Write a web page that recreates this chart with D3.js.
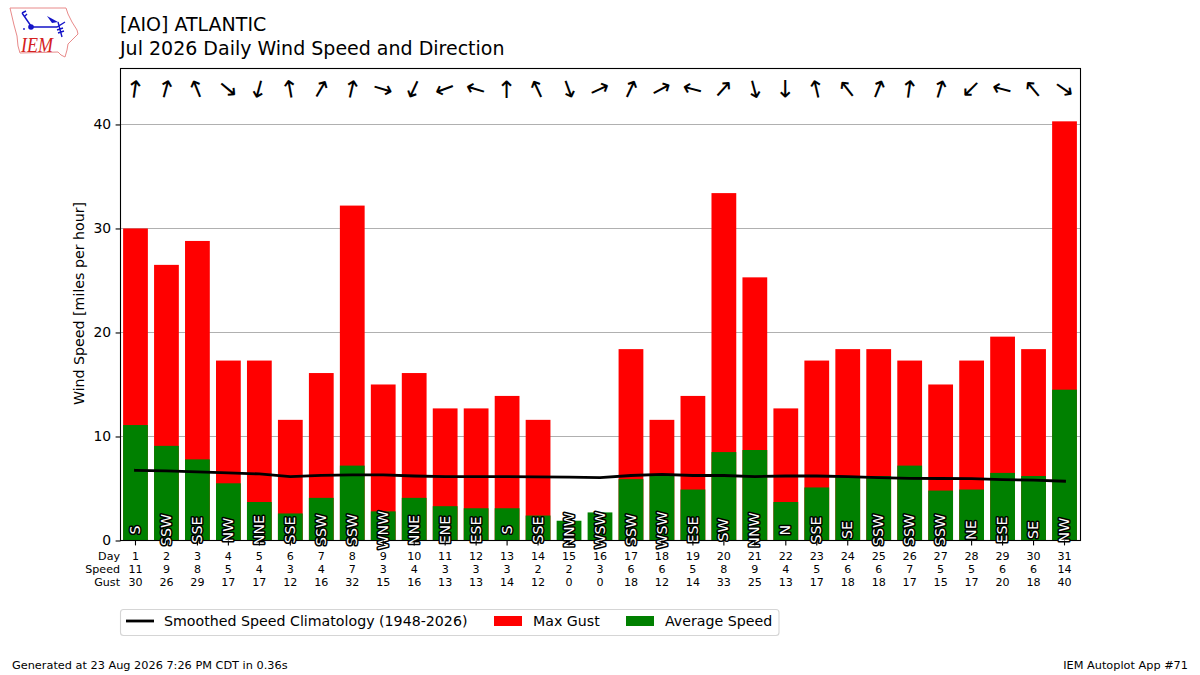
<!DOCTYPE html>
<html><head><meta charset="utf-8">
<script src="https://cdn.jsdelivr.net/npm/d3@7"></script>
<style>html,body{margin:0;padding:0;background:#fff}svg{display:block}text{font-family:"DejaVu Sans",sans-serif}</style>
</head><body><svg id="c" width="1200" height="675"></svg>
<script>
const days=d3.range(1,32);
const gust=[30,26.5,28.8,17.3,17.3,11.6,16.1,32.2,15,16.1,12.7,12.7,13.9,11.6,0,0,18.4,11.6,13.9,33.4,25.3,12.7,17.3,18.4,18.4,17.3,15,17.3,19.6,18.4,40.3];
const speed=[11.1,9.1,7.8,5.5,3.7,2.6,4.1,7.2,2.8,4.1,3.3,3.1,3.1,2.4,1.9,2.7,5.9,6.3,4.9,8.5,8.7,3.7,5.1,6.2,6.2,7.2,4.8,4.9,6.5,6.2,14.5];
const speedLabels=[11,9,8,5,4,3,4,7,3,4,3,3,3,2,2,3,6,6,5,8,9,4,5,6,6,7,5,5,6,6,14];
const gustLabels=[30,26,29,17,17,12,16,32,15,16,13,13,14,12,0,0,18,12,14,33,25,13,17,18,18,17,15,17,20,18,40];
const dirLabels=["S","SSW","SSE","NW","NNE","SSE","SSW","SSW","WNW","NNE","ENE","ESE","S","SSE","NNW","WSW","SSW","WSW","ESE","SW","NNW","N","SSE","SE","SSW","SSW","SSW","NE","ESE","SE","NW"];
const arrowAngle=[8,15,-22,130,195,-10,30,13,107,205,250,287,0,-25,160,65,25,62,285,42,165,180,-13,-38,22,8,17,225,285,-40,125];
const clim=[6.75,6.7,6.6,6.5,6.4,6.15,6.27,6.3,6.3,6.2,6.15,6.15,6.15,6.12,6.1,6.05,6.25,6.35,6.25,6.25,6.15,6.2,6.2,6.15,6.05,5.98,5.96,5.95,5.85,5.8,5.7];
const yTicks=[0,10,20,30,40];
const rowLabels=["Day","Speed","Gust"];
const titleLines=["[AIO] ATLANTIC","Jul 2026 Daily Wind Speed and Direction"];

const svg=d3.select("#c");
const L=120.5,R=1080.5,T=68.5,B=540.5;
const x=d3.scaleLinear().domain([0.5,31.5]).range([L-0.5,R-0.5]);
const y=d3.scaleLinear().domain([0,45.38]).range([B,T]);
const bw=x(0.8)-x(0);

// gridlines behind bars
svg.append("g").selectAll("line").data(yTicks.slice(1)).join("line")
 .attr("x1",L).attr("x2",R).attr("y1",d=>y(d)).attr("y2",d=>y(d))
 .attr("stroke","#b0b0b0").attr("stroke-width",1.1);

svg.append("g").selectAll("rect").data(days).join("rect")
 .attr("x",d=>x(d)-bw/2).attr("width",bw).attr("y",(d,i)=>y(gust[i])).attr("height",(d,i)=>y(0)-y(gust[i])).attr("fill","#ff0000");
svg.append("g").selectAll("rect").data(days).join("rect")
 .attr("x",d=>x(d)-bw/2).attr("width",bw).attr("y",(d,i)=>y(speed[i])).attr("height",(d,i)=>y(0)-y(speed[i])).attr("fill","#008000");

svg.append("path").datum(days).attr("fill","none").attr("stroke","#000").attr("stroke-width",2.8)
 .attr("stroke-linejoin","round").attr("stroke-linecap","square")
 .attr("d",d3.line().x(d=>x(d)).y((d,i)=>y(clim[i])));

// frame
svg.append("rect").attr("x",L).attr("y",T).attr("width",R-L).attr("height",B-T).attr("fill","none").attr("stroke","#000").attr("stroke-width",1.1);

// direction labels inside bars
svg.append("g").selectAll("text").data(days).join("text")
 .attr("transform",d=>`translate(${x(d)-0.5},${y(1)}) rotate(-90)`)
 .attr("text-anchor","middle").attr("dy","0.36em").attr("font-size",14.2)
 .attr("fill","#fff").attr("stroke","#000").attr("stroke-width",3).attr("paint-order","stroke").attr("stroke-linejoin","round")
 .text((d,i)=>dirLabels[i]);

// arrows as text
svg.append("g").selectAll("text").data(days).join("text")
 .attr("transform",(d,i)=>`translate(${x(d)-0.5},${y(43.4)}) rotate(${arrowAngle[i]})`)
 .attr("text-anchor","middle").attr("dy","0.36em").attr("font-size",24).attr("fill","#000").text("\u2191");

// y axis
const ya=svg.append("g").attr("transform",`translate(${L},0)`).call(d3.axisLeft(y).tickValues(yTicks).tickSize(4.9).tickPadding(4.5).tickFormat(d3.format("d")));
ya.select(".domain").remove();
ya.selectAll("line").attr("stroke","#000").attr("stroke-width",1.1);
ya.selectAll("text").attr("font-size",13.9).attr("font-family",'"DejaVu Sans"').attr("fill","#000");

// x ticks
svg.append("g").selectAll("line").data(days).join("line")
 .attr("x1",d=>x(d)).attr("x2",d=>x(d)).attr("y1",B).attr("y2",B+4.9).attr("stroke","#000").attr("stroke-width",1.1);

// tick table
[days,speedLabels,gustLabels].forEach((row,r)=>{
 const yy=559.8+13.3*r;
 svg.append("g").selectAll("text").data(row).join("text")
  .attr("x",(d,i)=>x(i+1)).attr("y",yy).attr("text-anchor","middle").attr("font-size",11.1).attr("fill","#000").text(d=>d);
 svg.append("text").attr("x",L-0.5).attr("y",yy).attr("text-anchor","end").attr("font-size",11.1).attr("fill","#000").text(rowLabels[r]);
});

// y label
svg.append("text").attr("transform",`translate(84,${y(0)/2+T/2-1}) rotate(-90)`).attr("text-anchor","middle").attr("font-size",14.2).attr("fill","#000").text("Wind Speed [miles per hour]");

// titles
svg.selectAll("text.t").data(titleLines).join("text").attr("class","t").attr("x",120).attr("y",(d,i)=>31+i*24).attr("font-size",19).attr("fill","#000").text(d=>d);

// legend
const lg=svg.append("g");
lg.append("rect").attr("x",120.5).attr("y",609.5).attr("width",658.5).attr("height",26).attr("rx",3).attr("fill","#fff").attr("stroke","#d5d5d5").attr("stroke-width",1.1);
lg.append("line").attr("x1",126).attr("x2",154).attr("y1",621).attr("y2",621).attr("stroke","#000").attr("stroke-width",2.8);
const legendText=[["Smoothed Speed Climatology (1948-2026)",164],["Max Gust",533],["Average Speed",665]];
lg.selectAll("text").data(legendText).join("text").attr("x",d=>d[1]).attr("y",626).attr("font-size",14.2).attr("fill","#000").text(d=>d[0]);
lg.append("rect").attr("x",494).attr("y",616).attr("width",28).attr("height",10).attr("fill","#ff0000");
lg.append("rect").attr("x",626).attr("y",616).attr("width",28).attr("height",10).attr("fill","#008000");

// footer
svg.append("text").attr("x",12).attr("y",669).attr("font-size",11.3).attr("fill","#000").text("Generated at 23 Aug 2026 7:26 PM CDT in 0.36s");
svg.append("text").attr("x",1188).attr("y",669).attr("text-anchor","end").attr("font-size",11.3).attr("fill","#000").text("IEM Autoplot App #71");

// logo
const logo=svg.append("g");
logo.append("path").attr("d","M10,8 L66,8 L68,14 L72,22 L77,30 L78,34 L72,40 L68,44 L67,50 L65,57 L61,55 L58,52 L20,53 L18,46 L17,36 L14,25 Z")
 .attr("fill","#fff").attr("stroke","#e88a8a").attr("stroke-width",1);
logo.append("path").attr("d","M31,27 L57,27 L65,22 M31,26 L22,13 M22,13 L26,11 M24,17 L27,14 M58,22 L62,37 M57,30 L63,28 M58,33 L64,31").attr("fill","none").attr("stroke","#1414c8").attr("stroke-width",1.4);
logo.append("circle").attr("cx",31).attr("cy",27).attr("r",2.8).attr("fill","#1414c8");
logo.append("circle").attr("cx",24).attr("cy",29).attr("r",0.9).attr("fill","#1414c8");
logo.append("path").attr("d","M47,16 L58,22 L52,23 Z").attr("fill","#1414c8");
logo.append("text").attr("x",21).attr("y",52).attr("font-size",22).attr("font-style","italic").attr("textLength",32).attr("lengthAdjust","spacingAndGlyphs").attr("fill","#d42020").style("font-family",'"Liberation Serif",serif').text("IEM");
</script></body></html>
